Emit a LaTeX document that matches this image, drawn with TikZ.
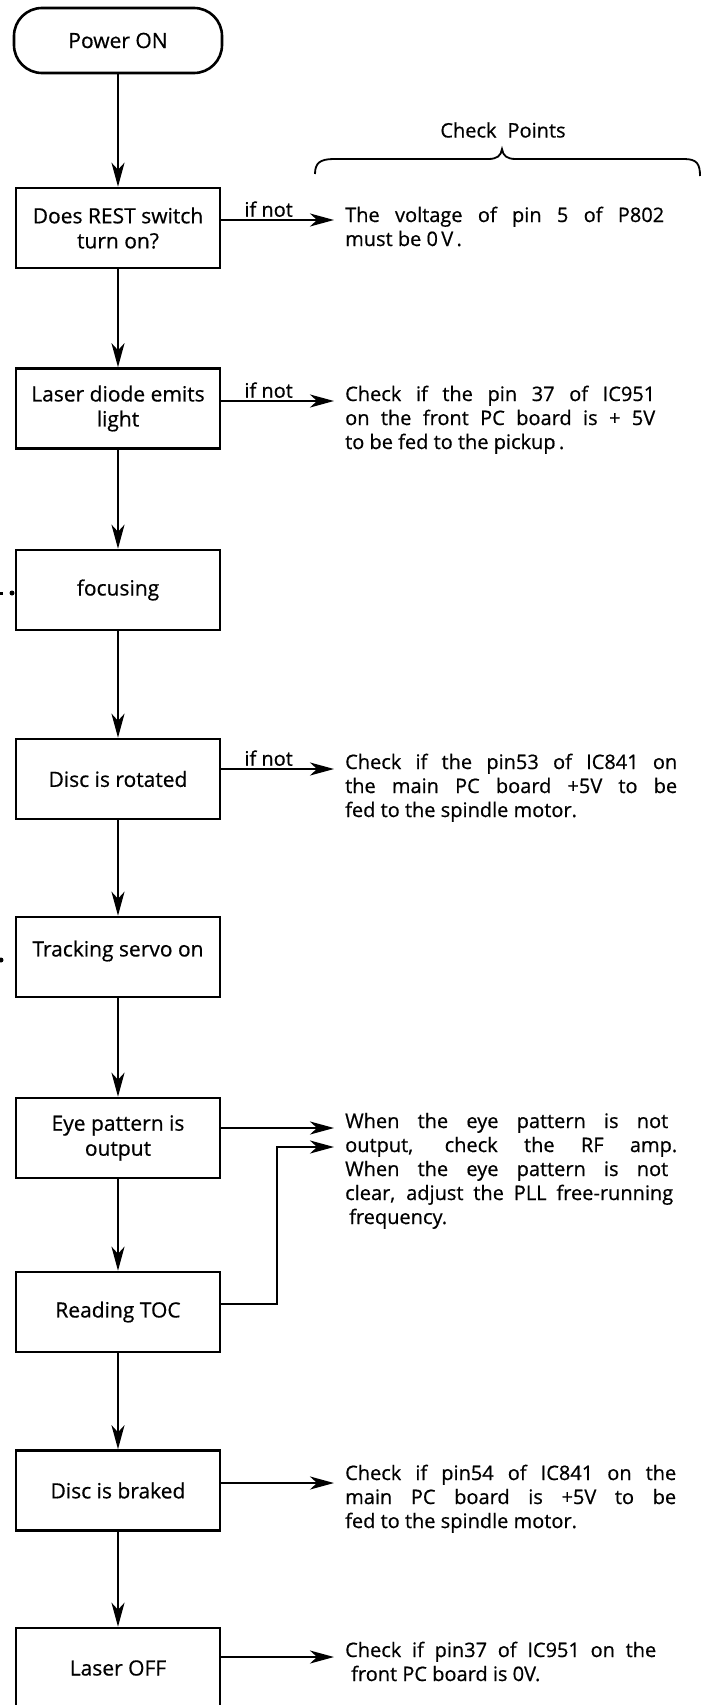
\documentclass[tikz,border=0pt]{standalone}
\usepackage{fontspec}
\setmainfont{Open Sans}[FakeBold=0.6]
\usetikzlibrary{arrows.meta}
\begin{document}
\begin{tikzpicture}[x=1pt,y=-1pt,
  every node/.style={font=\fontsize{20}{24}\selectfont, inner sep=0pt},
  box/.style={draw, line width=2.6pt, minimum width=204pt, minimum height=80pt, align=center, font=\fontsize{21}{25}\selectfont},
  arr/.style={line width=2.2pt, -{Stealth[length=24pt,width=13pt,inset=7pt]}},
  conn/.style={line width=2.2pt},
  chk/.style={anchor=base west},
  lbl/.style={above=2pt}]
\clip (0,0) rectangle (703,1705);
% flow boxes
\node[box, rounded corners=28pt, minimum width=208pt, minimum height=65pt] (p) at (118,40.5) {Power ON};
\node[box] (b1) at (118,228) {Does REST switch\\turn on?};
\node[box] (b2) at (118,408.5) {Laser diode emits\\light};
\node[box] (b3) at (118,590) {focusing};
\node[box] (b4) at (118,779) {Disc is rotated};
\node[box] (b5) at (118,957) {\raisebox{6pt}[\height][\depth]{Tracking servo on}};
\node[box] (b6) at (118,1138) {Eye pattern is\\output};
\node[box] (b7) at (118,1312) {Reading TOC};
\node[box] (b8) at (118,1490.5) {Disc is braked};
\node[box] (b9) at (118,1668) {Laser OFF};
% main arrows
\draw[arr] (p) -- (b1);
\draw[arr] (b1) -- (b2);
\draw[arr] (b2) -- (b3);
\draw[arr] (b3) -- (b4);
\draw[arr] (b4) -- (b5);
\draw[arr] (b5) -- (b6);
\draw[arr] (b6) -- (b7);
\draw[arr] (b7) -- (b8);
\draw[arr] (b8) -- (b9);
% check points header
\node (cp) at (503,130) {Check\hspace{0.55em}Points};
\draw[line width=1.8pt] (315,174) .. controls (315,163) and (320,159) .. (334,159) -- (488,159)
  .. controls (497,159) and (501,156) .. (502,149)
  .. controls (503,156) and (507,159) .. (516,159) -- (684,159)
  .. controls (697,159) and (700,164) .. (700,176);
% check texts
\node[chk] (c1) at (345,222) {\vtop{\hbox{\makebox[319pt][s]{The voltage of pin 5 of P802}}\hbox{must be 0\,V\,.}}};
\node[chk] (c2) at (345,401) {\vtop{\hbox{\makebox[310pt][s]{Check if the pin 37 of IC951}}\hbox{\makebox[310pt][s]{on the front PC board is + 5V}}\hbox{to be fed to the pickup\,.}}};
\node[chk] (c3) at (345,769) {\vtop{\hbox{\makebox[332pt][s]{Check if the pin53 of IC841 on}}\hbox{\makebox[332pt][s]{the main PC board +5V to be}}\hbox{fed to the spindle motor.}}};
\node[chk] (c4) at (345,1128) {\vtop{\hbox{\makebox[323pt][s]{When the eye pattern is not}}\hbox{\makebox[332pt][s]{output, check the RF amp.}}\hbox{\makebox[323pt][s]{When the eye pattern is not}}\hbox{\makebox[328pt][s]{clear, adjust the PLL free-running}}\hbox{\hspace{4pt}frequency.}}};
\node[chk] (c5) at (345,1480) {\vtop{\hbox{\makebox[331pt][s]{Check if pin54 of IC841 on the}}\hbox{\makebox[331pt][s]{main PC board is +5V to be}}\hbox{fed to the spindle motor.}}};
\node[chk] (c6) at (345,1657) {\vtop{\hbox{\makebox[311pt][s]{Check if pin37 of IC951 on the}}\hbox{\hspace{6pt}front PC board is 0V.}}};
% arrow tips toward check texts
\coordinate (t1) at (334,220);
\coordinate (t2) at (334,401);
\coordinate (t4) at (334,769);
\coordinate (t6) at (334,1128);
\coordinate (t7) at (334,1147);
\coordinate (k7) at (277,1304);
\coordinate (t8) at (334,1483);
\coordinate (t9) at (334,1657);
\draw[arr] (b1.east |- t1) -- (t1) node[lbl, pos=.42] {if not};
\draw[arr] (b2.east |- t2) -- (t2) node[lbl, pos=.42] {if not};
\draw[arr] (b4.east |- t4) -- (t4) node[lbl, pos=.42] {if not};
\draw[arr] (b6.east |- t6) -- (t6);
\draw[arr] (b7.east |- k7) -- (k7) |- (t7);
\draw[arr] (b8.east |- t8) -- (t8);
\draw[arr] (b9.east |- t9) -- (t9);
% small marks at the left edge
\fill (12,593) circle (2.5);
\fill (0,592) rectangle (3,594.5);
\fill (1,960) circle (2.5);
\end{tikzpicture}
\end{document}
